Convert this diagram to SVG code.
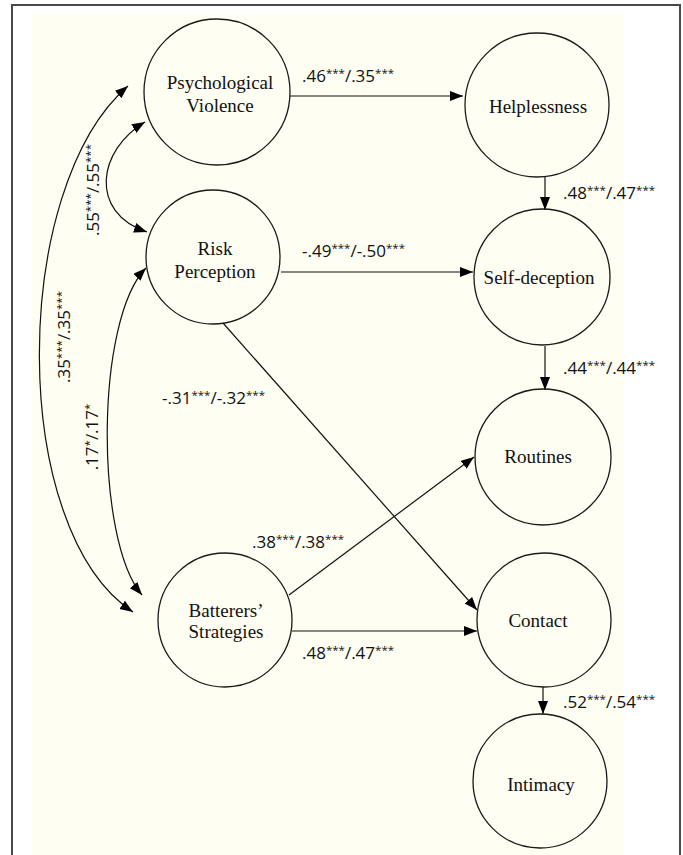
<svg xmlns="http://www.w3.org/2000/svg" width="683" height="855" viewBox="0 0 683 855">
  <defs>
    <style>
      .node circle { fill: none; stroke: #1a1a1a; stroke-width: 1.3; }
      .node text { font-family: "Liberation Serif", "Times New Roman", serif; font-size: 19px; fill: #111; text-anchor: middle; }
      .edge { fill: none; stroke: #111; stroke-width: 1.2; }
      .coef { font-family: "Open Sans", "Liberation Sans", sans-serif; font-size: 17px; fill: #111; }
      .sup { font-size: 11.5px; }
    </style>
    <marker id="arrow" markerUnits="userSpaceOnUse" markerWidth="14" markerHeight="11" refX="13" refY="5" orient="auto-start-reverse">
      <path d="M0,0 L13,5 L0,10 z" fill="#000"/>
    </marker>
  </defs>

  <!-- frame and panel -->
  <rect x="0" y="0" width="683" height="855" fill="#ffffff"/>
  <rect x="32" y="13" width="592" height="842" fill="#fefef2"/>
  <path d="M12,856 V5 H680 V856" fill="none" stroke="#4a4a4a" stroke-width="2"/>

  <!-- connectors -->
  <g id="connectors">
    <line class="edge" x1="290" y1="96" x2="463" y2="96" marker-end="url(#arrow)"/>
    <line class="edge" x1="545" y1="176" x2="545" y2="210" marker-end="url(#arrow)"/>
    <line class="edge" x1="281" y1="272" x2="473" y2="272" marker-end="url(#arrow)"/>
    <line class="edge" x1="545" y1="346" x2="545" y2="390" marker-end="url(#arrow)"/>
    <line class="edge" x1="223" y1="323" x2="477" y2="610" marker-end="url(#arrow)"/>
    <line class="edge" x1="289" y1="595" x2="474" y2="457" marker-end="url(#arrow)"/>
    <line class="edge" x1="292" y1="631" x2="477" y2="631" marker-end="url(#arrow)"/>
    <line class="edge" x1="543" y1="687" x2="543" y2="714" marker-end="url(#arrow)"/>
    <!-- correlations -->
    <path class="edge" d="M145,122 C98,150 88,212 147,232" marker-start="url(#arrow)" marker-end="url(#arrow)"/>
    <path class="edge" d="M128,86 C10,188 8,530 133,612" marker-start="url(#arrow)" marker-end="url(#arrow)"/>
    <path class="edge" d="M146,268 C95,320 95,540 142,595" marker-start="url(#arrow)" marker-end="url(#arrow)"/>

    <!-- coefficients -->
    <text class="coef" x="302" y="82">.46<tspan class="sup" dy="-5">***</tspan><tspan dy="5">/.35</tspan><tspan class="sup" dy="-5">***</tspan></text>
    <text class="coef" x="563" y="199">.48<tspan class="sup" dy="-5">***</tspan><tspan dy="5">/.47</tspan><tspan class="sup" dy="-5">***</tspan></text>
    <text class="coef" x="302" y="257">-.49<tspan class="sup" dy="-5">***</tspan><tspan dy="5">/-.50</tspan><tspan class="sup" dy="-5">***</tspan></text>
    <text class="coef" x="563" y="374">.44<tspan class="sup" dy="-5">***</tspan><tspan dy="5">/.44</tspan><tspan class="sup" dy="-5">***</tspan></text>
    <text class="coef" x="162" y="404">-.31<tspan class="sup" dy="-5">***</tspan><tspan dy="5">/-.32</tspan><tspan class="sup" dy="-5">***</tspan></text>
    <text class="coef" x="252" y="548">.38<tspan class="sup" dy="-5">***</tspan><tspan dy="5">/.38</tspan><tspan class="sup" dy="-5">***</tspan></text>
    <text class="coef" x="302" y="659">.48<tspan class="sup" dy="-5">***</tspan><tspan dy="5">/.47</tspan><tspan class="sup" dy="-5">***</tspan></text>
    <text class="coef" x="563" y="708">.52<tspan class="sup" dy="-5">***</tspan><tspan dy="5">/.54</tspan><tspan class="sup" dy="-5">***</tspan></text>
    <text class="coef" text-anchor="middle" transform="translate(99,190) rotate(-90)">.55<tspan class="sup" dy="-5">***</tspan><tspan dy="5">/.55</tspan><tspan class="sup" dy="-5">***</tspan></text>
    <text class="coef" text-anchor="middle" transform="translate(70,337) rotate(-90)">.35<tspan class="sup" dy="-5">***</tspan><tspan dy="5">/.35</tspan><tspan class="sup" dy="-5">***</tspan></text>
    <text class="coef" text-anchor="middle" transform="translate(98,437) rotate(-90)">.17<tspan class="sup" dy="-5">*</tspan><tspan dy="5">/.17</tspan><tspan class="sup" dy="-5">*</tspan></text>
  </g>

  <!-- latent variables -->
  <g id="psychological-violence" class="node">
    <circle cx="217" cy="92" r="73"/>
    <text x="220" y="89">Psychological</text>
    <text x="220" y="112">Violence</text>
  </g>
  <g id="helplessness" class="node">
    <circle cx="537" cy="105" r="72"/>
    <text x="538" y="113">Helplessness</text>
  </g>
  <g id="risk-perception" class="node">
    <circle cx="213" cy="257" r="67"/>
    <text x="215" y="255">Risk</text>
    <text x="215" y="278">Perception</text>
  </g>
  <g id="self-deception" class="node">
    <circle cx="542" cy="277" r="68"/>
    <text x="539" y="284">Self-deception</text>
  </g>
  <g id="routines" class="node">
    <circle cx="543" cy="457" r="68"/>
    <text x="538" y="463">Routines</text>
  </g>
  <g id="batterers-strategies" class="node">
    <circle cx="225" cy="620" r="67"/>
    <text x="226" y="617">Batterers’</text>
    <text x="226" y="638">Strategies</text>
  </g>
  <g id="contact" class="node">
    <circle cx="544" cy="620" r="67"/>
    <text x="538" y="627">Contact</text>
  </g>
  <g id="intimacy" class="node">
    <circle cx="540" cy="781" r="67"/>
    <text x="541" y="791">Intimacy</text>
  </g>
</svg>
